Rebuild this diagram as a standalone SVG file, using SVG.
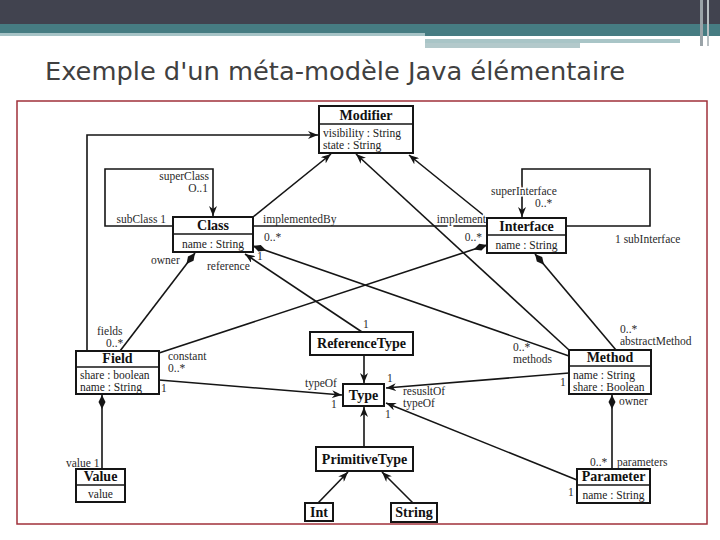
<svg xmlns="http://www.w3.org/2000/svg" width="720" height="540" viewBox="0 0 720 540">
<defs>
<style>
.box{fill:#fff;stroke:#151515;stroke-width:2}
.sep{stroke:#151515;stroke-width:1.5}
.ttl{font-family:"Liberation Serif","Times New Roman",serif;font-size:14px;font-weight:bold;fill:#111;text-anchor:middle}
.att{font-family:"Liberation Serif","Times New Roman",serif;font-size:11.5px;fill:#222}
.mid{text-anchor:middle}
.lbl{font-family:"Liberation Serif","Times New Roman",serif;font-size:11.5px;fill:#2a2a2a}
.end{text-anchor:end}
.halo{stroke:#fff;stroke-width:3;paint-order:stroke}
.ln{fill:none;stroke:#151515;stroke-width:1.6}
.ar{marker-end:url(#arr)}
.dm{marker-start:url(#dia)}
</style>
<marker id="arr" viewBox="0 0 10 8" refX="10" refY="4" markerWidth="10" markerHeight="8" markerUnits="userSpaceOnUse" orient="auto">
<path d="M0,0 L10,4 L0,8 L3,4 z" fill="#151515"/>
</marker>
<marker id="dia" viewBox="0 0 14 8" refX="0" refY="4" markerWidth="14" markerHeight="8" markerUnits="userSpaceOnUse" orient="auto">
<path d="M0,4 L7,0.5 L14,4 L7,7.5 z" fill="#151515"/>
</marker>
</defs>
<rect x="0" y="0" width="720" height="540" fill="#fff"/>
<g id="header">
<rect x="0" y="0" width="720" height="24" fill="#41434f"/>
<rect x="0" y="24" width="720" height="9" fill="#467c82"/>
<rect x="0" y="33" width="425" height="3" fill="#a6c3c6"/>
<rect x="425" y="33" width="295" height="3" fill="#467c82"/>
<rect x="425" y="39" width="255" height="4" fill="#a9c5c7"/>
<rect x="425" y="43" width="155" height="5" fill="#b3c9cb"/>
<rect x="700" y="0" width="3" height="46" fill="#9aa3a8"/>
<rect x="707" y="0" width="2" height="46" fill="#b9c0c3"/>
<text x="45" y="80" font-family="DejaVu Sans Condensed, DejaVu Sans, sans-serif" font-size="25" fill="#404040" textLength="580" lengthAdjust="spacingAndGlyphs">Exemple d'un méta-modèle Java élémentaire</text>
</g>
<rect x="17" y="101" width="690" height="423" fill="none" stroke="#a0303a" stroke-width="1.5"/>
<g id="connectors">
<path class="ln ar" d="M87,351 V135 H318"/>
<path class="ln ar" d="M173,226 H105 V169 H213 V216"/>
<path class="ln ar" d="M253,217 L331,154"/>
<path class="ln ar" d="M487,218 L409,155"/>
<path class="ln ar" d="M569,350 L356,154"/>
<path class="ln" d="M253,226 H487"/>
<path class="ln ar" d="M566,226 H650 V169 H522 V217"/>
<path class="ln ar" d="M362,332 L245,254"/>
<path class="ln dm" d="M195,253 L120,351"/>
<path class="ln dm" d="M253,246 L569,356"/>
<path class="ln dm" d="M487,245 L159,353"/>
<path class="ln dm" d="M535,254 L616,350"/>
<path class="ln ar" d="M159,380 L342,395"/>
<path class="ln ar" d="M364,355 V383"/>
<path class="ln ar" d="M364,447 V407"/>
<path class="ln ar" d="M318,503 L348,472"/>
<path class="ln ar" d="M413,503 L382,472"/>
<path class="ln ar" d="M569,373 L386,388"/>
<path class="ln ar" d="M577,480 L386,403"/>
<path class="ln dm" d="M612,395 V469"/>
<path class="ln dm" d="M102,395 V469"/>
</g>
<g id="labels">
<text class="lbl end" x="209" y="180">superClass</text>
<text class="lbl end" x="208" y="192">O..1</text>
<text class="lbl end" x="166" y="223">subClass 1</text>
<text class="lbl" x="263" y="223">implementedBy</text>
<text class="lbl" x="264" y="241">0..*</text>
<text class="lbl end halo" x="486" y="223">implement</text>
<text class="lbl end" x="482" y="241">0..*</text>
<text class="lbl halo" x="491" y="195">superInterface</text>
<text class="lbl" x="535" y="207">0..*</text>
<text class="lbl" x="615" y="243">1 subInterface</text>
<text class="lbl" x="151" y="264">owner</text>
<text class="lbl" x="207" y="270">reference</text>
<text class="lbl" x="257" y="260">1</text>
<text class="lbl" x="97" y="335">fields</text>
<text class="lbl" x="106" y="347">0..*</text>
<text class="lbl" x="363" y="328">1</text>
<text class="lbl" x="168" y="360">constant</text>
<text class="lbl" x="168" y="372">0..*</text>
<text class="lbl" x="513" y="351">0..*</text>
<text class="lbl" x="513" y="363">methods</text>
<text class="lbl" x="620" y="333">0..*</text>
<text class="lbl" x="620" y="345">abstractMethod</text>
<text class="lbl" x="161" y="392">1</text>
<text class="lbl" x="305" y="387">typeOf</text>
<text class="lbl" x="331" y="408">1</text>
<text class="lbl" x="387" y="382">1</text>
<text class="lbl" x="403" y="395">resusltOf</text>
<text class="lbl" x="403" y="407">typeOf</text>
<text class="lbl" x="560" y="386">1</text>
<text class="lbl" x="619" y="405">owner</text>
<text class="lbl" x="385" y="418">1</text>
<text class="lbl" x="590" y="466">0..*</text>
<text class="lbl" x="617" y="466">parameters</text>
<text class="lbl" x="568" y="496">1</text>
<text class="lbl" x="66" y="467">value 1</text>
</g>
<g id="Modifier">
<rect class="box" x="319" y="106" width="94" height="47"/>
<line class="sep" x1="319" y1="124" x2="413" y2="124"/>
<text class="ttl" x="366" y="120">Modifier</text>
<text class="att" x="323" y="137">visibility : String</text>
<text class="att" x="323" y="149">state : String</text>
</g>
<g id="Class">
<rect class="box" x="173" y="217" width="80" height="35"/>
<line class="sep" x1="173" y1="234" x2="253" y2="234"/>
<text class="ttl" x="213" y="230">Class</text>
<text class="att mid" x="213" y="248">name : String</text>
</g>
<g id="Interface">
<rect class="box" x="487" y="218" width="79" height="35"/>
<line class="sep" x1="487" y1="235" x2="566" y2="235"/>
<text class="ttl" x="526.5" y="231">Interface</text>
<text class="att mid" x="526.5" y="249">name : String</text>
</g>
<g id="Field">
<rect class="box" x="76" y="351" width="83" height="43"/>
<line class="sep" x1="76" y1="367" x2="159" y2="367"/>
<text class="ttl" x="117.5" y="363">Field</text>
<text class="att" x="80" y="379">share : boolean</text>
<text class="att" x="80" y="391">name : String</text>
</g>
<g id="ReferenceType">
<rect class="box" x="310" y="332" width="103" height="23"/>
<text class="ttl" x="361.5" y="348">ReferenceType</text>
</g>
<g id="Type">
<rect class="box" x="343" y="384" width="41" height="22"/>
<text class="ttl" x="363.5" y="400">Type</text>
</g>
<g id="Method">
<rect class="box" x="569" y="350" width="82" height="44"/>
<line class="sep" x1="569" y1="366" x2="651" y2="366"/>
<text class="ttl" x="610" y="362">Method</text>
<text class="att" x="573" y="379">name : String</text>
<text class="att" x="573" y="391">share : Boolean</text>
</g>
<g id="Parameter">
<rect class="box" x="577" y="469" width="73" height="34"/>
<line class="sep" x1="577" y1="485" x2="650" y2="485"/>
<text class="ttl" x="613.5" y="481">Parameter</text>
<text class="att mid" x="613.5" y="499">name : String</text>
</g>
<g id="PrimitiveType">
<rect class="box" x="316" y="447" width="97" height="24"/>
<text class="ttl" x="364.5" y="464">PrimitiveType</text>
</g>
<g id="Value">
<rect class="box" x="76" y="469" width="49" height="33"/>
<line class="sep" x1="76" y1="485" x2="125" y2="485"/>
<text class="ttl" x="100.5" y="481">Value</text>
<text class="att mid" x="100.5" y="498">value</text>
</g>
<g id="Int">
<rect class="box" x="305" y="503" width="28" height="18"/>
<text class="ttl" x="319" y="517">Int</text>
</g>
<g id="String">
<rect class="box" x="391" y="503" width="46" height="19"/>
<text class="ttl" x="414" y="517">String</text>
</g>
</svg>
